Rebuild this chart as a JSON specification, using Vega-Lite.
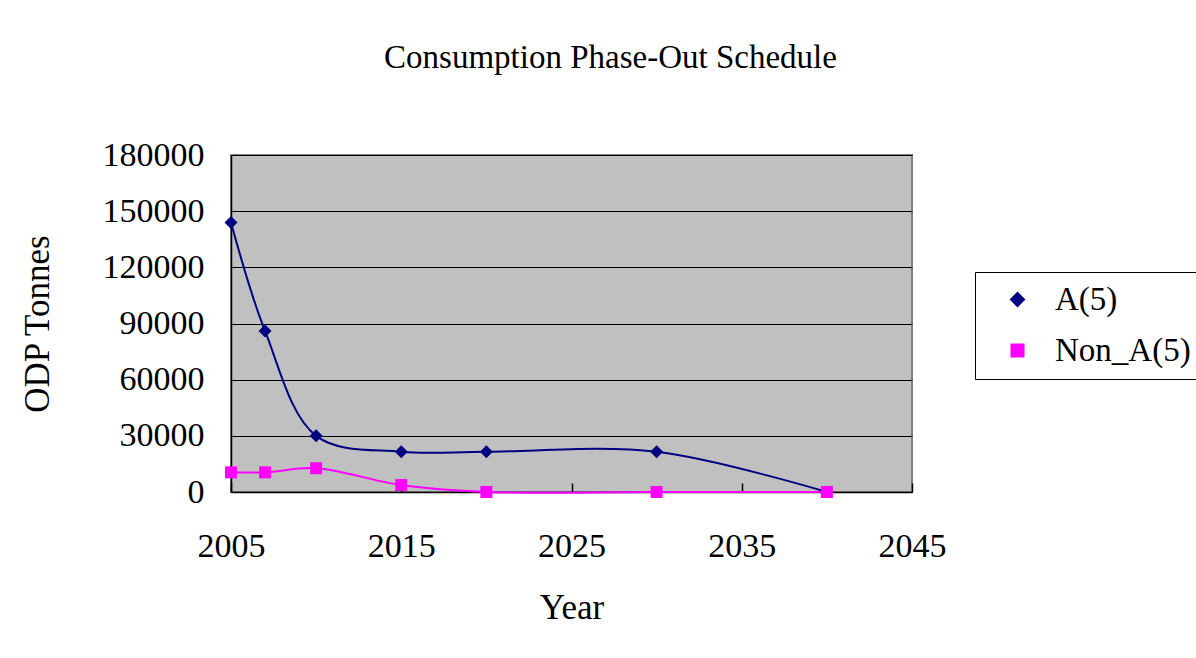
{
  "$schema": "https://vega.github.io/schema/vega-lite/v6.json",
  "width": 681,
  "height": 337,
  "autosize": "none",
  "padding": {"left": 231, "top": 155, "right": 284, "bottom": 166},
  "background": "white",
  "title": {
    "text": "Consumption Phase-Out Schedule",
    "font": "Liberation Serif",
    "fontSize": 33,
    "fontWeight": "normal",
    "color": "black",
    "anchor": "middle",
    "frame": "group",
    "dx": 39,
    "baseline": "alphabetic",
    "offset": 37
  },
  "config": {
    "font": "Liberation Serif",
    "view": {"fill": "#C0C0C0", "stroke": "#808080", "strokeWidth": 2},
    "axis": {
      "labelFont": "Liberation Serif",
      "labelFontSize": 34,
      "labelColor": "black",
      "titleFont": "Liberation Serif",
      "titleFontSize": 35,
      "titleFontWeight": "normal",
      "titleColor": "black",
      "domainColor": "black",
      "domainWidth": 1.5
    }
  },
  "data": {
    "values": [
      {"year": 2005, "series": "A(5)", "value": 144000},
      {"year": 2007, "series": "A(5)", "value": 86000},
      {"year": 2010, "series": "A(5)", "value": 30000},
      {"year": 2015, "series": "A(5)", "value": 21500},
      {"year": 2020, "series": "A(5)", "value": 21500},
      {"year": 2030, "series": "A(5)", "value": 21500},
      {"year": 2040, "series": "A(5)", "value": 0},
      {"year": 2005, "series": "Non_A(5)", "value": 10500},
      {"year": 2007, "series": "Non_A(5)", "value": 10500},
      {"year": 2010, "series": "Non_A(5)", "value": 12700},
      {"year": 2015, "series": "Non_A(5)", "value": 3700},
      {"year": 2020, "series": "Non_A(5)", "value": 0},
      {"year": 2030, "series": "Non_A(5)", "value": 0},
      {"year": 2040, "series": "Non_A(5)", "value": 0}
    ]
  },
  "encoding": {
    "x": {
      "field": "year",
      "type": "quantitative",
      "title": "Year",
      "scale": {"domain": [2005, 2045], "nice": false, "zero": false},
      "axis": {
        "values": [2005, 2015, 2025, 2035, 2045],
        "format": "d",
        "grid": false,
        "ticks": true,
        "tickSize": -9,
        "tickWidth": 1.5,
        "tickColor": "black",
        "labelPadding": 46,
        "labelFlush": false,
        "titleBaseline": "alphabetic",
        "titleY": 126
      }
    },
    "y": {
      "field": "value",
      "type": "quantitative",
      "title": "ODP Tonnes",
      "scale": {"domain": [0, 180000], "nice": false},
      "axis": {
        "values": [0, 30000, 60000, 90000, 120000, 150000, 180000],
        "format": "d",
        "grid": true,
        "gridColor": "black",
        "gridWidth": 1,
        "gridOpacity": 1,
        "ticks": false,
        "labelPadding": 27,
        "labelFlush": false,
        "titleBaseline": "alphabetic",
        "titleX": -183,
        "titleY": 168.5,
        "titleAngle": -90
      }
    },
    "color": {
      "field": "series",
      "type": "nominal",
      "scale": {"domain": ["A(5)", "Non_A(5)"], "range": ["#000080", "#FF00FF"]},
      "legend": {
        "title": null,
        "orient": "none",
        "legendX": 744,
        "legendY": 117,
        "strokeColor": "black",
        "fillColor": "white",
        "padding": 11,
        "rowPadding": 17,
        "symbolSize": 400,
        "symbolOffset": 15,
        "labelOffset": 21,
        "symbolStrokeWidth": 2,
        "symbolType": "M-3,0L3,0M0,-0.6L0.6,0L0,0.6L-0.6,0Z",
        "labelFont": "Liberation Serif",
        "labelFontSize": 33,
        "labelColor": "black",
        "labelLimit": 400,
        "encode": {
          "symbols": {
            "update": {
              "shape": {"value": {"expr": "datum.value === 'A(5)' ? 'M-3,0L3,0M0,-0.6L0.6,0L0,0.6L-0.6,0Z' : 'M-3,0L3,0M-0.6,-0.6L0.6,-0.6L0.6,0.6L-0.6,0.6Z'"}},
              "size": {"value": 400},
              "fill": {"value": {"expr": "datum.value === 'A(5)' ? '#000080' : '#FF00FF'"}},
              "stroke": {"value": {"expr": "datum.value === 'A(5)' ? '#000080' : '#FF00FF'"}},
              "strokeWidth": {"value": 2},
              "opacity": {"value": 1}
            }
          }
        }
      }
    }
  },
  "layer": [
    {
      "mark": {"type": "line", "interpolate": "catmull-rom", "strokeWidth": 2}
    },
    {
      "mark": {"type": "point", "filled": true, "opacity": 1},
      "encoding": {
        "shape": {
          "field": "series",
          "type": "nominal",
          "scale": {"domain": ["A(5)", "Non_A(5)"], "range": ["diamond", "square"]},
          "legend": null
        },
        "size": {
          "field": "series",
          "type": "nominal",
          "scale": {"domain": ["A(5)", "Non_A(5)"], "range": [169, 144]},
          "legend": null
        }
      }
    }
  ]
}
